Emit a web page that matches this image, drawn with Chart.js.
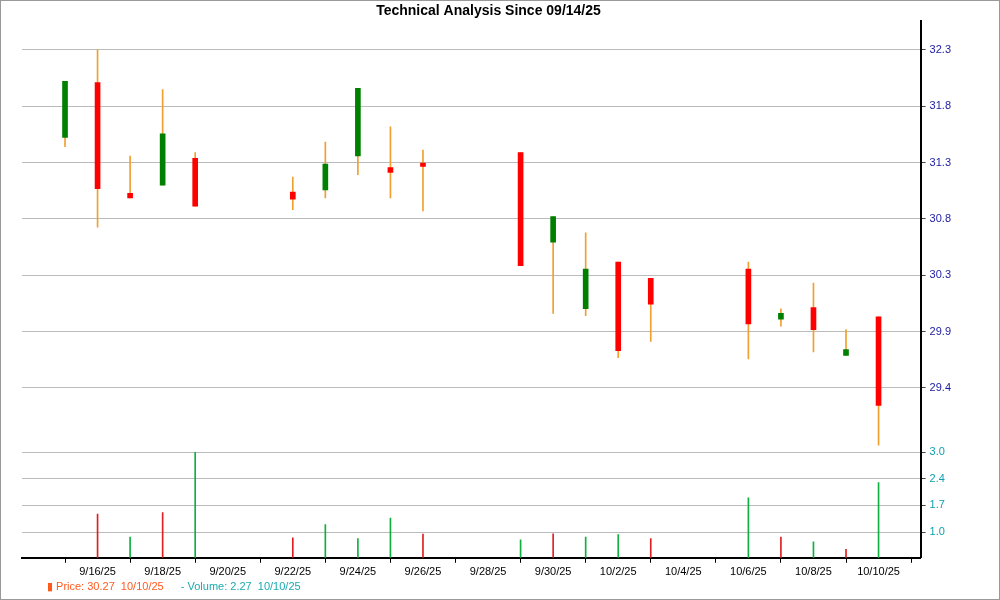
<!DOCTYPE html>
<html>
<head>
<meta charset="utf-8">
<script src="https://cdn.jsdelivr.net/npm/chart.js@4/dist/chart.umd.min.js"></script>
<style>
  body { margin: 0; background: #fff; }
  #wrap { position: relative; width: 998px; height: 598px; border: 1px solid #999; }
  #legend { position: absolute; left: 46px; top: 579px; font: 11px "Liberation Sans", Arial, sans-serif; }
  #legend span { margin-right: 14px; }
</style>
</head>
<body>
<div id="wrap">
  <canvas id="c" width="998" height="598"></canvas>
  <div id="legend">
    <span style="color:#ff5a1e">&#9646; Price: 30.27&nbsp; 10/10/25</span>
    <span style="color:#1aabb0">- Volume: 2.27&nbsp; 10/10/25</span>
  </div>
</div>
<script>
// one entry per calendar day from 9/15/25, null = no trading
const dates = ['9/15/25','9/16/25','9/17/25','9/18/25','9/19/25','9/20/25','9/21/25','9/22/25','9/23/25','9/24/25','9/25/25','9/26/25','9/27/25','9/28/25','9/29/25','9/30/25','10/1/25','10/2/25','10/3/25','10/4/25','10/5/25','10/6/25','10/7/25','10/8/25','10/9/25','10/10/25'];
const opens  = [31.55, 32.02, 31.07, 31.14, 31.37, null, null, 31.08, 31.10, 31.39, 31.29, 31.33, null, null, 31.42, 30.65, 30.08, 30.48, 30.34, null, null, 30.42, 29.99, 30.09, 29.68, 30.01];
const closes = [32.03, 31.11, 31.03, 31.58, 30.96, null, null, 31.02, 31.32, 31.97, 31.25, 31.30, null, null, 30.45, 30.87, 30.42, 29.72, 30.12, null, null, 29.95, 30.04, 29.90, 29.73, 29.25];
const highs  = [32.03, 32.30, 31.39, 31.96, 31.42, null, null, 31.21, 31.51, 31.97, 31.64, 31.44, null, null, 31.42, 30.87, 30.73, 30.48, 30.34, null, null, 30.48, 30.08, 30.30, 29.90, 30.01];
const lows   = [31.47, 30.78, 31.03, 31.14, 30.96, null, null, 30.93, 31.03, 31.23, 31.03, 30.92, null, null, 30.45, 30.04, 30.02, 29.66, 29.80, null, null, 29.65, 29.93, 29.71, 29.68, 28.91];
const volumes = [null, 1.45, 0.88, 1.49, 3.00, null, null, 0.86, 1.19, 0.84, 1.35, 0.95, null, null, 0.81, 0.96, 0.88, 0.94, 0.84, null, null, 1.86, 0.88, 0.76, 0.57, 2.24];
const volUp   = [null, false, true, false, true, null, null, false, true, true, true, false, null, null, true, false, true, true, false, null, null, true, false, true, false, true];
const priceTicks = [29.4, 29.883, 30.367, 30.85, 31.333, 31.817, 32.3];
const priceTickLabels = ['29.4', '29.9', '30.3', '30.8', '31.3', '31.8', '32.3'];
const volTicks = [1.0, 1.667, 2.333, 3.0];
const volTickLabels = ['1.0', '1.7', '2.4', '3.0'];

const wicks = [], bodies = [], bodyColors = [], vols = [], volColors = [];
dates.forEach((d, i) => {
  if (opens[i] === null) return;
  wicks.push({ x: i, y: [lows[i], highs[i]] });
  bodies.push({ x: i, y: [Math.min(opens[i], closes[i]), Math.max(opens[i], closes[i])] });
  bodyColors.push(closes[i] >= opens[i] ? '#008000' : '#ff0000');
  if (volumes[i] !== null) {
    vols.push({ x: i, y: [0, volumes[i]] });
    volColors.push(volUp[i] ? '#10b040' : '#e02020');
  }
});

const font = { family: 'Liberation Sans, Arial, sans-serif', size: 11 };
const gridDash = { color: '#bbb', lineWidth: 1, tickColor: '#444', tickLength: 5 };

new Chart(document.getElementById('c'), {
  type: 'bar',
  data: {
    datasets: [
      { data: wicks, yAxisID: 'y', backgroundColor: '#f0a030', barThickness: 1, grouped: false, order: 2 },
      { data: bodies, yAxisID: 'y', backgroundColor: bodyColors, borderWidth: 0, barThickness: 5, grouped: false, order: 1 },
      { data: vols, yAxisID: 'v', backgroundColor: volColors, barThickness: 1, grouped: false }
    ]
  },
  options: {
    responsive: false,
    animation: false,
    layout: { padding: { left: 21, right: 44, top: 0, bottom: 17 } },
    plugins: {
      legend: { display: false },
      tooltip: { enabled: false },
      title: { display: true, text: 'Technical Analysis Since 09/14/25', color: '#000',
               font: { family: 'Liberation Sans, Arial, sans-serif', size: 14, weight: 'bold' }, padding: { top: 2, bottom: 1 } }
    },
    scales: {
      x: {
        type: 'linear', min: -0.26, max: 25.23,
        afterBuildTicks: s => { s.ticks = dates.map((d, i) => ({ value: i })).filter(t => t.value % 2 === 1); },
        afterFit: s => { s.paddingLeft = 0; s.paddingRight = 0; },
        ticks: { callback: v => dates[v], color: '#000', font, maxRotation: 0, autoSkip: false },
        grid: { drawOnChartArea: false, tickLength: 5, tickColor: '#000' },
        border: { color: '#000', width: 2 }
      },
      y: {
        position: 'right', stack: 'p', stackWeight: 4.08, min: 28.85, max: 32.55,
        afterBuildTicks: s => { s.ticks = priceTicks.map(v => ({ value: v })); },
        ticks: { callback: (v, i) => priceTickLabels[i], color: '#1a1aa0', font, padding: 4 },
        grid: { ...gridDash },
        border: { color: '#000', width: 2 }
      },
      v: {
        position: 'right', stack: 'p', stackWeight: 1, min: 0.36, max: 3.0,
        afterBuildTicks: s => { s.ticks = volTicks.map(v => ({ value: v })); },
        ticks: { callback: (v, i) => volTickLabels[i], color: '#10a0b0', font, padding: 4 },
        grid: { ...gridDash },
        border: { color: '#000', width: 2 }
      }
    }
  }
});
</script>
</body>
</html>
